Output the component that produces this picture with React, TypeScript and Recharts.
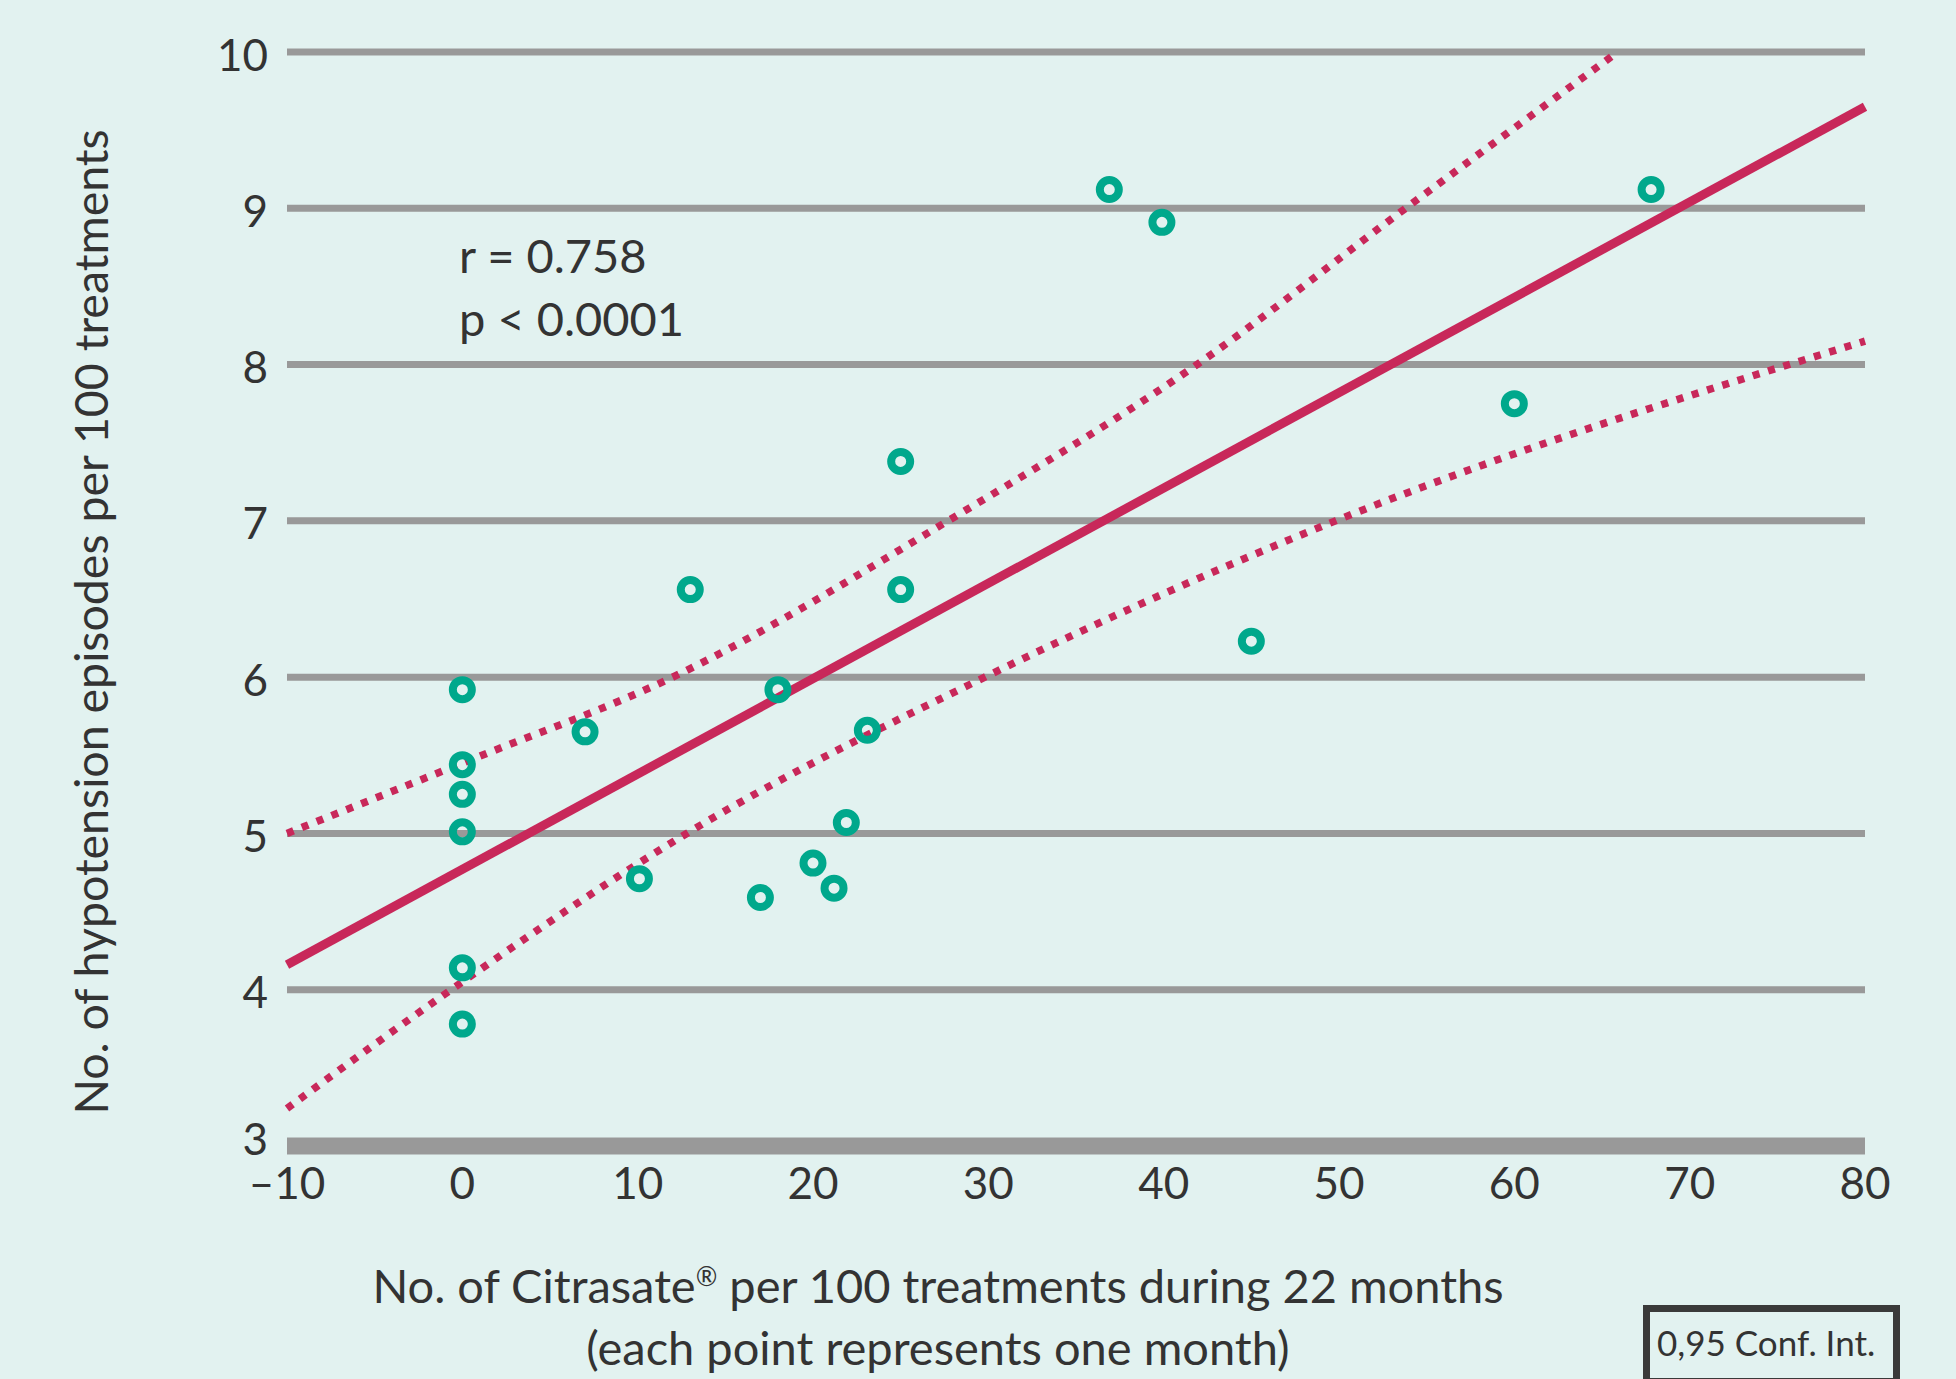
import { ComposedChart, Scatter, Line, XAxis, YAxis, CartesianGrid, ReferenceLine } from 'recharts';

// monthly points
const monthX = [0, 0, 0, 0, 0, 0, 7, 10.1, 13, 17, 18, 20, 21.2, 21.9, 23.1, 25, 25, 36.9, 39.9, 45, 60, 67.8];
const monthY = [5.92, 5.44, 5.25, 5.01, 4.14, 3.78, 5.65, 4.71, 6.56, 4.59, 5.92, 4.81, 4.65, 5.07, 5.66, 7.38, 6.56, 9.12, 8.91, 6.23, 7.75, 9.12];

const fitX = [-10, 80];
const fitY = [4.16, 9.65];

const upperX = [-10, 0, 12, 27.7, 41.9, 53.8, 65.9];
const upperY = [5.0, 5.45, 6.0, 7.0, 8.0, 9.0, 10.0];

const lowerX = [-10, 0, 12.8, 29.8, 49.8, 80];
const lowerY = [3.24, 4.05, 5.0, 6.0, 7.0, 8.15];

const xTicks = [-10, 0, 10, 20, 30, 40, 50, 60, 70, 80];
const yTicks = [3, 4, 5, 6, 7, 8, 9, 10];

const BG = '#e2f2f0';
const RED = '#c8285a';
const TEAL = '#00a88c';
const GRID = '#999999';
const INK = '#333333';
const FONT = 'Lato, "Open Sans", sans-serif';

const zip = (xs: number[], ys: number[]) => xs.map((x, i) => ({ x, y: ys[i] }));

const Ring = (props: any) => {
  const { cx, cy } = props;
  if (cx == null || cy == null) return null;
  return <circle cx={cx} cy={cy} r={9.5} fill="none" stroke={TEAL} strokeWidth={8} />;
};

// y tick; the bottom "3" sits a bit higher, clear of the x labels
const YTick = (props: any) => {
  const { x, y, payload } = props;
  const lift = payload.value === 3 ? -7 : 3;
  return (
    <text x={x} y={y + lift} dy="0.355em" textAnchor="end" fill={INK} fontSize={44} fontFamily={FONT}>
      {payload.value}
    </text>
  );
};

export default function App() {
  const points = zip(monthX, monthY);
  const fit = zip(fitX, fitY);
  const upper = zip(upperX, upperY);
  const lower = zip(lowerX, lowerY);

  return (
    <div style={{ position: 'absolute', left: 0, top: 0, width: 1956, height: 1379, background: BG, fontFamily: FONT, color: INK, overflow: 'hidden' }}>
      <ComposedChart width={1956} height={1379} margin={{ top: 52, right: 91, bottom: 0, left: 0 }}>
        <CartesianGrid horizontal vertical={false} stroke={GRID} strokeWidth={7} />
        <XAxis
          type="number"
          dataKey="x"
          domain={[-10, 80]}
          ticks={xTicks}
          height={233}
          axisLine={false}
          tickLine={false}
          tickMargin={16}
          tickFormatter={(v: number) => String(v).replace('-', '\u2013')}
          tick={{ fill: INK, fontSize: 44, fontFamily: FONT }}
        />
        <YAxis
          type="number"
          dataKey="y"
          domain={[3, 10]}
          ticks={yTicks}
          width={287}
          axisLine={false}
          tickLine={false}
          tickMargin={13}
          tick={<YTick />}
        />
        <ReferenceLine y={3} stroke={GRID} strokeWidth={17} />
        <Scatter data={points} dataKey="y" shape={Ring} isAnimationActive={false} />
        <Line data={upper} dataKey="y" type="monotone" stroke={RED} strokeWidth={7.5} strokeDasharray="7 9" dot={false} isAnimationActive={false} />
        <Line data={lower} dataKey="y" type="monotone" stroke={RED} strokeWidth={7.5} strokeDasharray="7 9" dot={false} isAnimationActive={false} />
        <Line data={fit} dataKey="y" type="linear" stroke={RED} strokeWidth={9} dot={false} isAnimationActive={false} />
      </ComposedChart>

      <div style={{ position: 'absolute', left: 459, top: 224, fontSize: 47, lineHeight: '63px' }}>
        <div>r = 0.758</div>
        <div>p &lt; 0.0001</div>
      </div>

      <div style={{ position: 'absolute', left: 90, top: 622, transform: 'translate(-50%, -50%) rotate(-90deg)', whiteSpace: 'nowrap', fontSize: 46.5 }}>
        No. of hypotension episodes per 100 treatments
      </div>

      <div style={{ position: 'absolute', left: 938, top: 1254, transform: 'translateX(-50%)', whiteSpace: 'nowrap', fontSize: 47, lineHeight: '62px', textAlign: 'center' }}>
        <div>No. of Citrasate<sup style={{ fontSize: 26, lineHeight: 0 }}>®</sup> per 100 treatments during 22 months</div>
        <div style={{ height: 58, overflow: 'visible' }}>(each point represents one month)</div>
      </div>

      <div style={{ position: 'absolute', left: 1643, top: 1305, width: 257, height: 80, boxSizing: 'border-box', border: '7px solid #3a3a3a', fontSize: 35, paddingLeft: 7, lineHeight: '60px', whiteSpace: 'nowrap' }}>
        0,95 Conf. Int.
      </div>
    </div>
  );
}
